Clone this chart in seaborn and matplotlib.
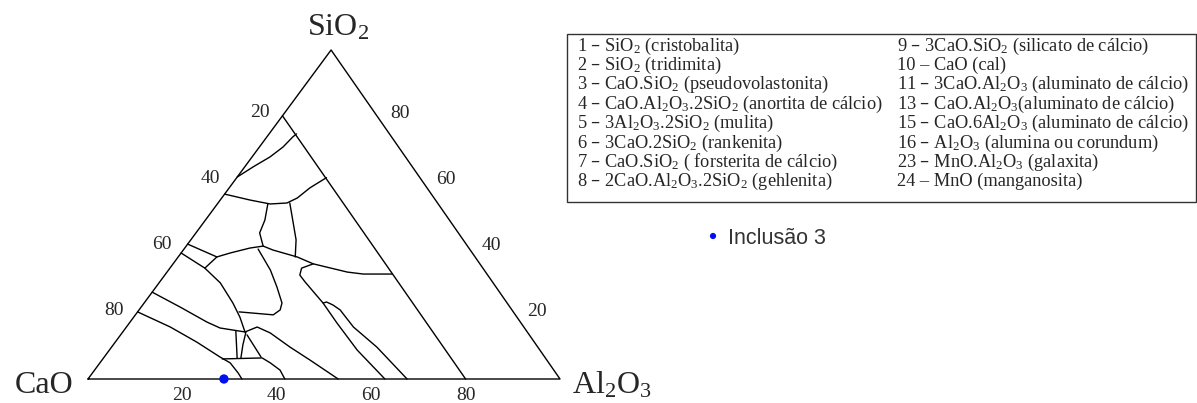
import matplotlib
matplotlib.use("Agg")
import matplotlib.pyplot as plt
import matplotlib.patches as mpatches
import pandas as pd
import seaborn as sns

# compositions as (Al2O3 %, SiO2 %); CaO is the rest
triangle = [(0, 0), (100, 0), (0, 100), (0, 0)]
cao20_line = [(0, 80), (80, 0)]
sio2_arc = [(0, 61.4), (1.8, 64.5), (3.8, 67.5), (5.0, 70.5), (5.5, 73.6), (5.8, 74.5)]
upper_arc = [(0, 56.2), (6.3, 54.4), (11.2, 53.2), (14.6, 53.5), (16.0, 55.0), (17.1, 58.1), (19.0, 61.2)]
upper_split = [(15.2, 53.5), (18.5, 48.3), (22.3, 42.3), (24.8, 37.1)]
mid_split = [(10.7, 53.2), (12.6, 48.3), (13.5, 44.4), (16.3, 40.4)]
mid_line = [(0, 41.0), (8.2, 37.1), (10.4, 38.3), (13.8, 39.8), (16.3, 40.4), (19.0, 39.2),
            (25.2, 37.1), (29.7, 35.0), (38.2, 32.5), (41.9, 31.9), (48.0, 31.9)]
band_low = [(0, 38.3), (7.4, 33.7), (8.2, 37.1)]
gehlenite_arc = [(7.4, 33.7), (13.0, 29.2), (18.8, 23.1), (22.5, 18.8), (25.9, 14.3)]
mid_loop = [(15.7, 39.5), (21.6, 33.1), (25.6, 28.0), (29.2, 23.1), (29.9, 21.0), (29.2, 19.5), (21.5, 20.4)]
line_f = [(0, 26.4), (8.2, 21.9), (16.3, 17.3), (20.0, 15.5), (25.9, 14.3)]
line_g = [(0, 20.4), (9.3, 15.8), (17.3, 11.2), (24.5, 6.7), (27.6, 4.9), (30.9, 1.8), (32.6, 0)]
box_left = [(23.8, 14.6), (28.3, 6.4)]
box_right = [(26.1, 14.3), (27.5, 10.3), (29.1, 6.4)]
box_diag = [(26.8, 13.4), (33.2, 6.7)]
low_line = [(25.3, 6.1), (33.6, 6.4), (36.1, 4.9), (39.3, 2.7), (41.7, 0)]
line_l = [(25.9, 14.3), (27.7, 15.8), (31.4, 14.0), (37.8, 9.7), (44.0, 5.8), (53.0, 0)]
loop_j = [(29.7, 35.0), (27.9, 33.7), (28.6, 31.6), (30.8, 29.5), (37.9, 23.1),
          (44.0, 17.0), (52.5, 8.8), (62.9, 0)]
branch_k = [(37.9, 23.1), (38.5, 23.4), (40.3, 22.5), (42.6, 21.0), (48.1, 15.8), (56.2, 9.7), (67.6, 0)]

inclusion = (28.8, 0.0)  # Inclusão 3
ticks = [20, 40, 60, 80]

legend_left = [
    "1 – SiO$_2$ (cristobalita)",
    "2 – SiO$_2$ (tridimita)",
    "3 – CaO.SiO$_2$ (pseudovolastonita)",
    "4 – CaO.Al$_2$O$_3$.2SiO$_2$ (anortita de cálcio)",
    "5 – 3Al$_2$O$_3$.2SiO$_2$ (mulita)",
    "6 – 3CaO.2SiO$_2$ (rankenita)",
    "7 – CaO.SiO$_2$ ( forsterita de cálcio)",
    "8 – 2CaO.Al$_2$O$_3$.2SiO$_2$ (gehlenita)",
]
legend_right = [
    "9 – 3CaO.SiO$_2$ (silicato de cálcio)",
    "10 – CaO (cal)",
    "11 – 3CaO.Al$_2$O$_3$ (aluminato de cálcio)",
    "13 – CaO.Al$_2$O$_3$(aluminato de cálcio)",
    "15 – CaO.6Al$_2$O$_3$ (aluminato de cálcio)",
    "16 – Al$_2$O$_3$ (alumina ou corundum)",
    "23 – MnO.Al$_2$O$_3$ (galaxita)",
    "24 – MnO (manganosita)",
]

APEX_SHIFT = 0.515  # the picture's triangle is skewed/stretched


def to_xy(a, s):
    return a + APEX_SHIFT * s, s


curves = {
    "triangle": triangle, "cao20": cao20_line, "sio2": sio2_arc, "upper": upper_arc,
    "upper_split": upper_split, "mid_split": mid_split, "mid": mid_line, "band": band_low,
    "gehl": gehlenite_arc, "loop": mid_loop, "f": line_f, "g": line_g, "bl": box_left,
    "br": box_right, "bd": box_diag, "low": low_line, "l": line_l, "j": loop_j, "k": branch_k,
}
rows = []
for name, pts in curves.items():
    for i, (a, s) in enumerate(pts):
        x, y = to_xy(a, s)
        rows.append({"curve": name, "order": i, "x": x, "y": y})
df = pd.DataFrame(rows)

sns.set_style("white")
plt.rcParams["font.family"] = ["Liberation Serif", "DejaVu Serif"]
plt.rcParams["mathtext.default"] = "regular"

W, H = 1197, 403
fig = plt.figure(figsize=(W / 100, H / 100), dpi=100)
fig.patch.set_facecolor("white")
ax = fig.add_axes([88 / W, (H - 379) / H, 472 / W, 329 / H])
ax.set_xlim(0, 100)
ax.set_ylim(0, 100)
ax.axis("off")

sns.lineplot(data=df, x="x", y="y", units="curve", estimator=None, sort=False,
             color="black", linewidth=1.0, ax=ax, legend=False, clip_on=False)

ix, iy = to_xy(*inclusion)
sns.scatterplot(x=[ix], y=[iy], color="#0010f0", s=45, edgecolor="none", ax=ax,
                clip_on=False, zorder=5)

tick_kw = dict(textcoords="offset pixels", ha="center", va="center", fontsize=14,
               annotation_clip=False)
for v in ticks:
    ax.annotate(str(v), to_xy(v, 0), xytext=(0, -16), **tick_kw)
    ax.annotate(str(v), to_xy(0, 100 - v), xytext=(-23, 3), **tick_kw)
    ax.annotate(str(v), to_xy(100 - v, v), xytext=(23, 2), **tick_kw)

lab_kw = dict(textcoords="offset pixels", va="baseline", fontsize=23, annotation_clip=False)
ax.annotate("SiO$_2$", to_xy(0, 100), xytext=(7, 14), ha="center", **lab_kw)
ax.annotate("CaO", to_xy(0, 0), xytext=(-15, -14), ha="right", **lab_kw)
ax.annotate("Al$_2$O$_3$", to_xy(100, 0), xytext=(12, -15), ha="left", **lab_kw)

# legend panel in pixel coordinates
lax = fig.add_axes([0, 0, 1, 1])
lax.set_xlim(0, W)
lax.set_ylim(H, 0)
lax.axis("off")
lax.patch.set_alpha(0)
lax.add_patch(mpatches.Rectangle((567, 34), 629, 168, fill=False, edgecolor="#333333", lw=1))
for i, (t1, t2) in enumerate(zip(legend_left, legend_right)):
    y = 46 + i * 19.4
    lax.text(577, y, t1, fontsize=13.2, va="center", ha="left")
    lax.text(897, y, t2, fontsize=13.2, va="center", ha="left")

lax.scatter([713], [236], s=20, color="#0010f0", edgecolor="none")
lax.text(728, 238, "Inclusão 3", fontsize=15.5, va="center", ha="left", color="#333333",
         family=["Liberation Sans", "DejaVu Sans"])

fig.savefig("out.png", dpi=100)
